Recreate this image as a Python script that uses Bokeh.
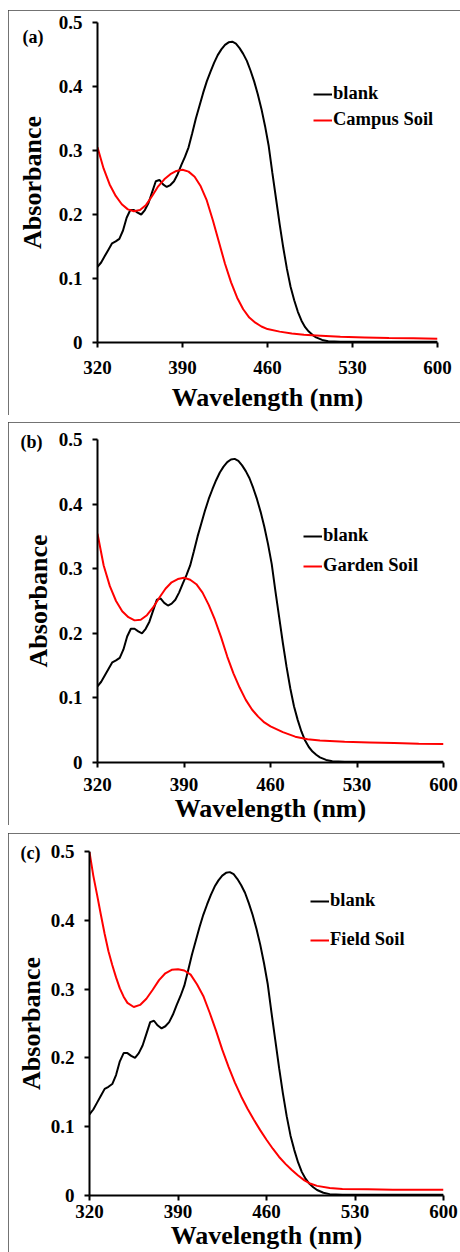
from bokeh.plotting import figure
from bokeh.models import FixedTicker, Legend, LegendItem, LinearAxis, Range1d
from bokeh.embed import file_html
from bokeh.resources import INLINE

# ---------------- data ----------------
x_ticks = [320, 390, 460, 530, 600]
y_ticks = [0, 0.1, 0.2, 0.3, 0.4, 0.5]

wl_blank = [320, 323, 326, 329, 332, 335, 338, 341, 344, 347, 350, 353, 356, 359, 362,
            365, 368, 371, 374, 377, 380, 383, 386, 389, 392, 395, 398, 401, 404, 407,
            410, 413, 416, 419, 422, 425, 428, 431, 434, 437, 440, 443, 446, 449, 452,
            455, 458, 461, 464, 467, 470, 473, 476, 479, 482, 485, 488, 491, 494, 497,
            500, 505, 510, 520, 540, 560, 580, 600]
abs_blank = [0.118, 0.125, 0.135, 0.145, 0.155, 0.158, 0.162, 0.175, 0.195, 0.207,
             0.207, 0.203, 0.200, 0.207, 0.218, 0.235, 0.252, 0.254, 0.247, 0.243,
             0.246, 0.252, 0.263, 0.277, 0.290, 0.305, 0.327, 0.350, 0.370, 0.390,
             0.408, 0.423, 0.437, 0.449, 0.458, 0.465, 0.469, 0.470, 0.467, 0.460,
             0.451, 0.440, 0.425, 0.408, 0.388, 0.365, 0.338, 0.307, 0.265, 0.225,
             0.185, 0.148, 0.115, 0.087, 0.066, 0.048, 0.034, 0.024, 0.017, 0.012,
             0.008, 0.004, 0.002, 0.001, 0.001, 0.001, 0.001, 0.001]

wl_campus = [320, 325, 330, 335, 340, 345, 350, 355, 360, 365, 370, 375, 380, 385, 390,
             395, 400, 405, 410, 415, 420, 425, 430, 435, 440, 445, 450, 455, 460,
             470, 480, 490, 500, 520, 540, 560, 580, 600]
abs_campus = [0.305, 0.272, 0.247, 0.229, 0.216, 0.208, 0.205, 0.207, 0.215, 0.229,
              0.244, 0.255, 0.263, 0.268, 0.270, 0.267, 0.259, 0.244, 0.222, 0.191,
              0.157, 0.123, 0.094, 0.070, 0.052, 0.039, 0.031, 0.025, 0.021,
              0.017, 0.014, 0.012, 0.011, 0.009, 0.008, 0.007, 0.0065, 0.006]

wl_garden = [320, 325, 330, 335, 340, 345, 350, 355, 360, 365, 370, 375, 380, 385, 390,
             395, 400, 405, 410, 415, 420, 425, 430, 435, 440, 445, 450, 455, 460,
             470, 480, 490, 500, 520, 540, 560, 580, 600]
abs_garden = [0.354, 0.305, 0.273, 0.250, 0.234, 0.225, 0.220, 0.221, 0.228, 0.240,
              0.255, 0.269, 0.279, 0.284, 0.286, 0.283, 0.276, 0.263, 0.244, 0.221,
              0.194, 0.164, 0.138, 0.116, 0.097, 0.082, 0.071, 0.062, 0.056,
              0.047, 0.040, 0.036, 0.034, 0.032, 0.031, 0.030, 0.029, 0.0285]

wl_field = [320, 323, 326, 329, 332, 335, 338, 341, 344, 347, 350, 355, 360, 365, 370,
            375, 380, 385, 390, 395, 400, 405, 410, 415, 420, 425, 430, 435, 440, 445,
            450, 455, 460, 465, 470, 475, 480, 485, 490, 495, 500, 510, 520, 540, 560,
            580, 600]
abs_field = [0.499, 0.465, 0.437, 0.408, 0.380, 0.355, 0.335, 0.317, 0.301, 0.289,
             0.280, 0.274, 0.277, 0.286, 0.299, 0.313, 0.323, 0.328, 0.329, 0.327,
             0.321, 0.307, 0.290, 0.266, 0.240, 0.212, 0.187, 0.164, 0.144, 0.126,
             0.110, 0.095, 0.081, 0.068, 0.056, 0.046, 0.037, 0.029, 0.022, 0.017,
             0.014, 0.011, 0.0095, 0.009, 0.0085, 0.0083, 0.0082]

panel_tags = ["(a)", "(b)", "(c)"]
sample_names = ["Campus Soil", "Garden Soil", "Field Soil"]
x_title = "Wavelength (nm)"
y_title = "Absorbance"

FONT = "Liberation Serif"


def make_panel(tag, s_wl, s_abs, s_name, height, borders, margin, ylab_standoff,
               xtick_standoff, xlab_standoff, legend_loc, legend_spacing,
               tag_y, tag_standoff):
    left, right, top, bottom = borders
    p = figure(width=452, height=height, x_range=Range1d(320, 600), y_range=Range1d(0, 0.5),
               output_backend="svg", toolbar_location=None,
               min_border_left=left, min_border_right=right,
               min_border_top=top, min_border_bottom=bottom,
               margin=margin,
               styles={"outline": "1.5px solid #444", "outline-offset": "-1.5px"})
    p.xgrid.visible = False
    p.ygrid.visible = False
    p.outline_line_color = None

    r_blank = p.line(wl_blank, abs_blank, line_color="black", line_width=2)
    r_samp = p.line(s_wl, s_abs, line_color="#ff0000", line_width=2)

    for ax in (p.xaxis[0], p.yaxis[0]):
        ax.axis_line_width = 2
        ax.axis_line_color = "black"
        ax.major_tick_line_width = 2
        ax.major_tick_line_color = "black"
        ax.major_tick_out = 5
        ax.major_tick_in = 0
        ax.minor_tick_out = 0
        ax.minor_tick_in = 0
        ax.major_label_text_font = FONT
        ax.major_label_text_font_style = "bold"
        ax.major_label_text_font_size = "19px"
        ax.major_label_text_color = "black"
        ax.axis_label_text_font = FONT
        ax.axis_label_text_font_style = "bold"
        ax.axis_label_text_font_size = "26px"
        ax.axis_label_text_color = "black"

    p.xaxis.ticker = FixedTicker(ticks=x_ticks)
    p.yaxis.ticker = FixedTicker(ticks=y_ticks)
    p.yaxis.major_label_overrides = {0: "0"}
    p.xaxis.axis_label = x_title
    p.yaxis.axis_label = y_title
    p.yaxis.major_label_standoff = 10
    p.yaxis.axis_label_standoff = ylab_standoff
    p.xaxis.major_label_standoff = xtick_standoff
    p.xaxis.axis_label_standoff = xlab_standoff

    legend = Legend(items=[LegendItem(label="blank", renderers=[r_blank]),
                           LegendItem(label=s_name, renderers=[r_samp])],
                    location=legend_loc, orientation="vertical",
                    glyph_width=19, glyph_height=20, label_height=20,
                    label_standoff=1, spacing=legend_spacing, padding=0, margin=0,
                    border_line_color=None, background_fill_alpha=0,
                    label_text_font=FONT, label_text_font_style="bold",
                    label_text_font_size="18.5px", label_text_color="black")
    p.add_layout(legend)

    # panel tag "(a)" etc. drawn as the single label of an outer, invisible left axis
    tag_axis = LinearAxis(ticker=FixedTicker(ticks=[tag_y]),
                          major_label_overrides={tag_y: tag},
                          axis_line_color=None, major_tick_line_color=None,
                          minor_tick_line_color=None,
                          major_tick_out=0, major_tick_in=0,
                          minor_tick_out=0, minor_tick_in=0,
                          major_label_standoff=tag_standoff,
                          major_label_text_font=FONT,
                          major_label_text_font_style="bold",
                          major_label_text_font_size="18px",
                          major_label_text_color="black")
    p.add_layout(tag_axis, "left")
    return p


pa = make_panel(panel_tags[0], wl_campus, abs_campus, sample_names[0], 405,
                (89, 23, 12, 73), (10, 0, 0, 8), 9, 13, 6, (216, 212), 5, 0.4766, -29)
pb = make_panel(panel_tags[1], wl_garden, abs_garden, sample_names[1], 403,
                (89, 17, 17, 62), (7, 0, 0, 8), 3, 10, 0, (206, 186), 9, 0.4954, -22)
pc = make_panel(panel_tags[2], wl_field, abs_field, sample_names[2], 419,
                (81, 17, 18, 57), (8, 0, 0, 8), 2, 4, 0, (221, 245), 18, 0.498, -27)

open("out.html", "w").write(file_html([pa, pb, pc], INLINE))
